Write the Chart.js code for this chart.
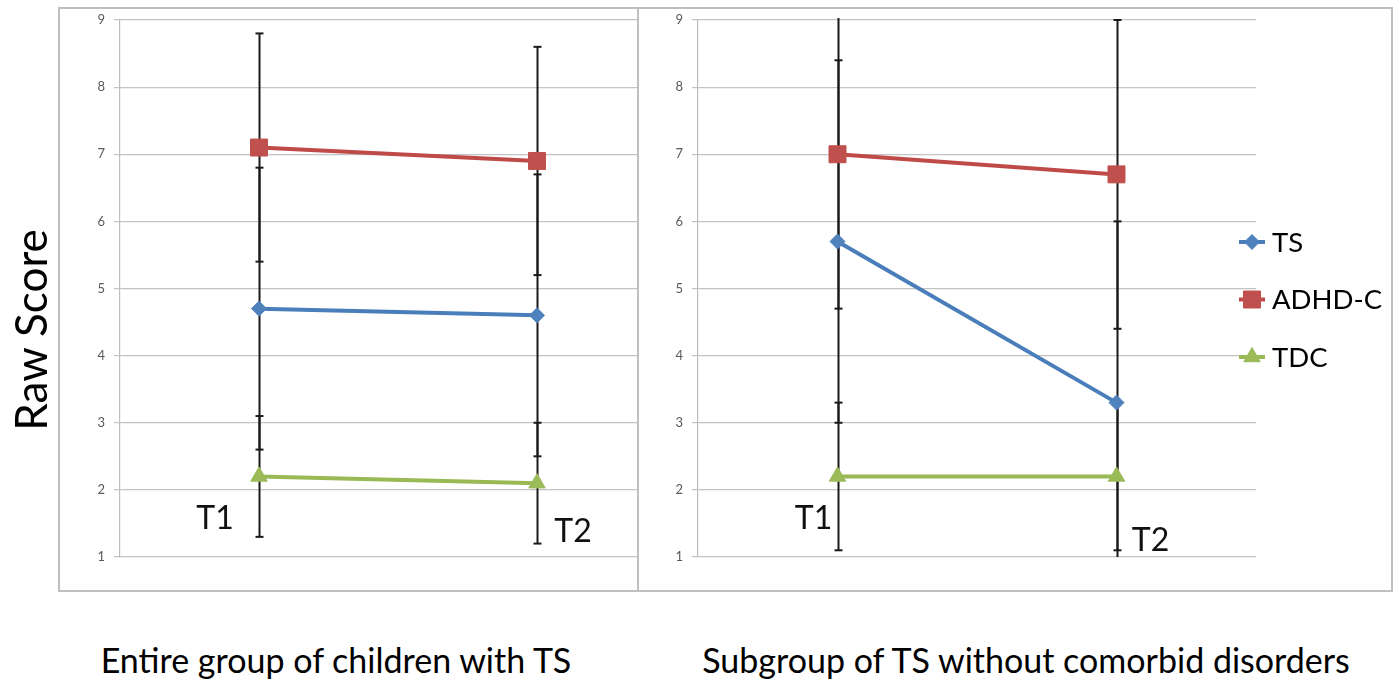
<!DOCTYPE html>
<html>
<head>
<meta charset="utf-8">
<script src="https://cdn.jsdelivr.net/npm/chart.js"></script>
<style>
  html, body { margin: 0; padding: 0; background: #ffffff; }
  #stage { position: relative; width: 1400px; height: 679px; overflow: hidden; background: #ffffff; font-family: Lato, "Open Sans", sans-serif; }
  .panel { position: absolute; box-sizing: border-box; border: 2px solid #bfbfbf; background: #ffffff; }
  canvas { position: absolute; }
  .txt { position: absolute; text-align: center; color: #000; white-space: nowrap; }
</style>
</head>
<body>
<div id="stage">
  <div class="panel" style="left:58px;top:7px;width:581px;height:585px;z-index:1;"></div>
  <canvas id="leftChart" width="700" height="600" style="left:0;top:0;z-index:2;"></canvas>
  <div class="panel" style="left:637px;top:7px;width:756px;height:585px;z-index:3;"></div>
  <canvas id="rightChart" width="763" height="600" style="left:637px;top:0;z-index:4;"></canvas>
  <div class="txt" style="left:-120px;top:302px;width:300px;height:56px;line-height:56px;font-size:44px;transform:rotate(-90deg);z-index:5;">Raw Score</div>
  <div class="txt" style="left:36px;top:638px;width:600px;height:44px;line-height:44px;font-size:34px;z-index:5;">Entire group of children with TS</div>
  <div class="txt" style="left:626px;top:638px;width:800px;height:44px;line-height:44px;font-size:34px;z-index:5;">Subgroup of TS without comorbid disorders</div>
</div>
<script>
// ---------- DATA ----------
const CATEGORIES = ['T1', 'T2'];
const SERIES_NAMES = ['TS', 'ADHD-C', 'TDC'];
const Y_MIN = 1;
const Y_MAX = 9;

// Entire group of children with TS
const LEFT_TS = [4.7, 4.6];
const LEFT_TS_LOW = [2.6, 2.5];
const LEFT_TS_HIGH = [6.8, 6.7];
const LEFT_ADHD = [7.1, 6.9];
const LEFT_ADHD_LOW = [5.4, 5.2];
const LEFT_ADHD_HIGH = [8.8, 8.6];
const LEFT_TDC = [2.2, 2.1];
const LEFT_TDC_LOW = [1.3, 1.2];
const LEFT_TDC_HIGH = [3.1, 3.0];

// Subgroup of TS without comorbid disorders
const RIGHT_TS = [5.7, 3.3];
const RIGHT_TS_LOW = [3.0, 0.6];
const RIGHT_TS_HIGH = [8.4, 6.0];
const RIGHT_ADHD = [7.0, 6.7];
const RIGHT_ADHD_LOW = [4.7, 4.4];
const RIGHT_ADHD_HIGH = [9.3, 9.0];
const RIGHT_TDC = [2.2, 2.2];
const RIGHT_TDC_LOW = [1.1, 1.1];
const RIGHT_TDC_HIGH = [3.3, 3.3];

// ---------- STYLES ----------
const STYLE = {
  TS:   { line: '#4a7ebb', fill: '#4f81bd', point: 'rectRot', radius: 7.5 },
  ADHD: { line: '#be4b48', fill: '#c0504d', point: 'rect', radius: 12 },
  TDC:  { line: '#98b954', fill: '#9bbb59', point: 'triangle', radius: 9.5 }
};
const FONT = 'Lato, "Open Sans", sans-serif';

function makeDataset(label, style, values, low, high) {
  return {
    label: label,
    data: values,
    errLow: low,
    errHigh: high,
    borderColor: style.line,
    backgroundColor: style.fill,
    pointBackgroundColor: style.fill,
    pointBorderColor: style.fill,
    pointBorderWidth: 1,
    pointStyle: style.point,
    pointRadius: style.radius,
    borderWidth: 4,
    tension: 0,
    fill: false
  };
}

// Error bar plugin: draws vertical bars from data arrays through the y scale
const errorBars = {
  id: 'errorBars',
  beforeDatasetsDraw(chart) {
    const ctx = chart.ctx;
    const area = chart.chartArea;
    const xs = chart.scales.x, ys = chart.scales.y;
    ctx.save();
    ctx.beginPath();
    ctx.rect(area.left, area.top - 2, area.right - area.left, area.bottom - area.top + 2);
    ctx.clip();
    ctx.strokeStyle = '#1a1a1a';
    ctx.lineWidth = 2;
    chart.data.datasets.forEach(ds => {
      ds.errLow.forEach((lo, i) => {
        const hi = ds.errHigh[i];
        const px = Math.round(xs.getPixelForValue(i)) + 0.5;
        const pLo = ys.getPixelForValue(Math.max(lo, Y_MIN - 0.5));
        const pHi = ys.getPixelForValue(Math.min(hi, Y_MAX + 0.5));
        ctx.beginPath();
        ctx.moveTo(px, pLo);
        ctx.lineTo(px, pHi);
        ctx.stroke();
        [lo, hi].forEach(v => {
          if (v >= Y_MIN && v <= Y_MAX) {
            const py = ys.getPixelForValue(v);
            ctx.beginPath();
            ctx.moveTo(px - 4, py);
            ctx.lineTo(px + 4, py);
            ctx.stroke();
          }
        });
      });
    });
    ctx.restore();
  }
};

// Time-point labels (T1 / T2) placed relative to the scales
const pointLabels = {
  id: 'pointLabels',
  afterDatasetsDraw(chart, args, opts) {
    const ctx = chart.ctx;
    const xs = chart.scales.x, ys = chart.scales.y;
    ctx.save();
    ctx.fillStyle = '#111';
    ctx.font = '32px ' + FONT;
    ctx.textAlign = 'center';
    ctx.textBaseline = 'middle';
    (opts.items || []).forEach(it => {
      ctx.fillText(CATEGORIES[it.index], xs.getPixelForValue(it.index) + it.dx, ys.getPixelForValue(it.value));
    });
    ctx.restore();
  }
};

function drawMarker(ctx, ds, x, y) {
  if (Chart.helpers && Chart.helpers.drawPoint) {
    ctx.fillStyle = ds.pointBackgroundColor;
    ctx.strokeStyle = ds.pointBorderColor;
    ctx.lineWidth = 1;
    Chart.helpers.drawPoint(ctx, { pointStyle: ds.pointStyle, radius: ds.pointRadius, borderWidth: 1, rotation: 0 }, x, y);
  }
}

// Legend drawn from the datasets
const sideLegend = {
  id: 'sideLegend',
  afterDraw(chart, args, opts) {
    if (!opts.show) return;
    const ctx = chart.ctx;
    const area = chart.chartArea;
    ctx.save();
    chart.data.datasets.forEach((ds, i) => {
      const cx = area.right + opts.dx;
      const cy = opts.y0 + i * opts.dy;
      ctx.strokeStyle = ds.borderColor;
      ctx.lineWidth = 4;
      ctx.beginPath();
      ctx.moveTo(cx - 13, cy);
      ctx.lineTo(cx + 13, cy);
      ctx.stroke();
      drawMarker(ctx, ds, cx, cy);
      ctx.fillStyle = '#000';
      ctx.font = '27.5px ' + FONT;
      ctx.textAlign = 'left';
      ctx.textBaseline = 'middle';
      ctx.fillText(ds.label, cx + 20, cy + 1);
    });
    ctx.restore();
  }
};

function buildOptions(padding, axisWidth, labelItems, legendOpts) {
  return {
    responsive: false,
    animation: false,
    devicePixelRatio: 1,
    layout: { padding: padding },
    plugins: {
      legend: { display: false },
      tooltip: { enabled: false },
      pointLabels: { items: labelItems },
      sideLegend: legendOpts
    },
    scales: {
      x: {
        type: 'category',
        offset: true,
        display: false,
        grid: { display: false }
      },
      y: {
        min: Y_MIN,
        max: Y_MAX,
        afterFit(scale) { scale.width = axisWidth; },
        ticks: { stepSize: 1, color: '#595959', font: { family: FONT, size: 13 }, padding: 9 },
        grid: { color: '#c3c3c3', lineWidth: 1.2, tickLength: 6, drawTicks: true },
        border: { display: true, color: '#bdbdbd', width: 1.2 }
      }
    }
  };
}

new Chart(document.getElementById('leftChart'), {
  type: 'line',
  data: {
    labels: CATEGORIES,
    datasets: [
      makeDataset(SERIES_NAMES[0], STYLE.TS, LEFT_TS, LEFT_TS_LOW, LEFT_TS_HIGH),
      makeDataset(SERIES_NAMES[1], STYLE.ADHD, LEFT_ADHD, LEFT_ADHD_LOW, LEFT_ADHD_HIGH),
      makeDataset(SERIES_NAMES[2], STYLE.TDC, LEFT_TDC, LEFT_TDC_LOW, LEFT_TDC_HIGH)
    ]
  },
  options: buildOptions({ left: 60, top: 20, right: 24, bottom: 43 }, 60,
    [{ index: 0, value: 1.57, dx: -44 }, { index: 1, value: 1.37, dx: 36 }],
    { show: false }),
  plugins: [errorBars, pointLabels, sideLegend]
});

new Chart(document.getElementById('rightChart'), {
  type: 'line',
  data: {
    labels: CATEGORIES,
    datasets: [
      makeDataset(SERIES_NAMES[0], STYLE.TS, RIGHT_TS, RIGHT_TS_LOW, RIGHT_TS_HIGH),
      makeDataset(SERIES_NAMES[1], STYLE.ADHD, RIGHT_ADHD, RIGHT_ADHD_LOW, RIGHT_ADHD_HIGH),
      makeDataset(SERIES_NAMES[2], STYLE.TDC, RIGHT_TDC, RIGHT_TDC_LOW, RIGHT_TDC_HIGH)
    ]
  },
  options: buildOptions({ left: 0, top: 20, right: 144, bottom: 43 }, 61,
    [{ index: 0, value: 1.57, dx: -24 }, { index: 1, value: 1.24, dx: 34 }],
    { show: true, dx: -4, y0: 242, dy: 57.5 }),
  plugins: [errorBars, pointLabels, sideLegend]
});
</script>
</body>
</html>
